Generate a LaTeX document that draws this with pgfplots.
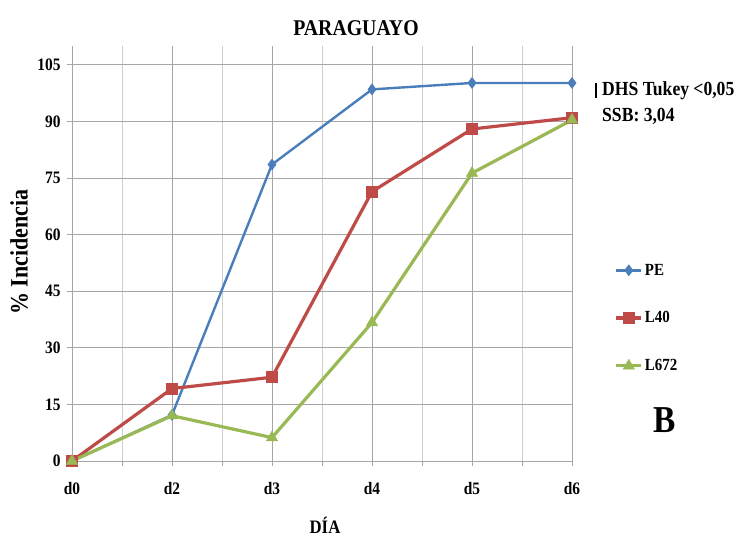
\documentclass[border=0pt]{standalone}
\usepackage{fontspec}
\setmainfont{Liberation Serif}[FakeStretch=0.88]
\usepackage{pgfplots}
\pgfplotsset{compat=1.18}
\definecolor{cPE}{HTML}{4A7EBB}
\definecolor{cL40}{HTML}{BE4B48}
\definecolor{cL672}{HTML}{98B954}
\definecolor{gridmaj}{HTML}{A6A6A6}
\definecolor{gridmin}{HTML}{CFCFCF}
\begin{document}
\begin{tikzpicture}
\path (0pt,0pt) rectangle (736pt,536pt);
\begin{axis}[
  at={(72pt,75pt)}, anchor=south west,
  scale only axis, width=500pt, height=415pt,
  xmin=0, xmax=5, ymin=0, ymax=110,
  xtick={0,1,2,3,4,5},
  xticklabels={d0,d2,d3,d4,d5,d6},
  minor xtick={0.5,1.5,2.5,3.5,4.5},
  ytick={0,15,30,45,60,75,90,105},
  grid=both,
  major grid style={gridmaj, line width=0.9pt},
  minor grid style={gridmin, line width=0.9pt},
  axis lines=left,
  axis line style={-, gridmaj, line width=1pt},
  tick style={gridmaj, line width=0.9pt},
  tick align=outside,
  major tick length=5pt, minor tick length=5pt,
  /pgf/number format/assume math mode=true,
  tick label style={font=\fontsize{17.5}{17.5}\selectfont\bfseries},
  xticklabel style={yshift=-13pt},
  yticklabel style={xshift=-3pt},
  legend style={at={(1.085,0.48)}, anchor=north west, draw=none, fill=none,
     font=\fontsize{17}{17}\selectfont\bfseries, row sep=31pt,
     inner xsep=0pt, inner ysep=0pt},
  legend cell align=left,
  legend image code/.code={\draw[#1, mark repeat=2, mark phase=2] plot coordinates {(0pt,0pt) (12.5pt,0pt) (25pt,0pt)};},
  clip=false,
]
\addplot[cPE, line width=2.4pt, mark=diamond*, mark size=5.5pt, mark options={line width=0.5pt}]
  coordinates {(0,0) (1,12.2) (2,78.6) (3,98.5) (4,100.2) (5,100.2)};
\addlegendentry{PE}
\addplot[cL40, line width=3.2pt, mark=square*, mark size=5.5pt, mark options={line width=0.5pt}]
  coordinates {(0,0) (1,19.2) (2,22.2) (3,71.4) (4,88) (5,91)};
\addlegendentry{L40}
\addplot[cL672, line width=3.2pt, mark=triangle*, mark size=6.5pt, mark options={line width=0.5pt}]
  coordinates {(0,0) (1,12) (2,6.2) (3,36.7) (4,76.3) (5,90.4)};
\addlegendentry{L672}
\end{axis}
\node[font=\fontsize{22.5}{22.5}\selectfont\bfseries] at (356pt,508pt) {PARAGUAYO};
\node[font=\fontsize{25}{25}\selectfont\bfseries, rotate=90] at (19pt,284pt) {\% Incidencia};
\node[font=\fontsize{19}{19}\selectfont\bfseries] at (325pt,11pt) {DÍA};
\draw[line width=2pt] (596pt,438pt) -- (596pt,453pt);
\node[font=\fontsize{20}{20}\selectfont\bfseries, anchor=west, inner sep=0pt] at (602pt,445pt) {DHS Tukey <0,05};
\node[font=\fontsize{20}{20}\selectfont\bfseries, anchor=west, inner sep=0pt] at (602pt,420pt) {SSB: 3,04};
\node[font=\fontsize{38}{38}\selectfont\bfseries] at (665pt,116pt) {B};
\end{tikzpicture}
\end{document}
